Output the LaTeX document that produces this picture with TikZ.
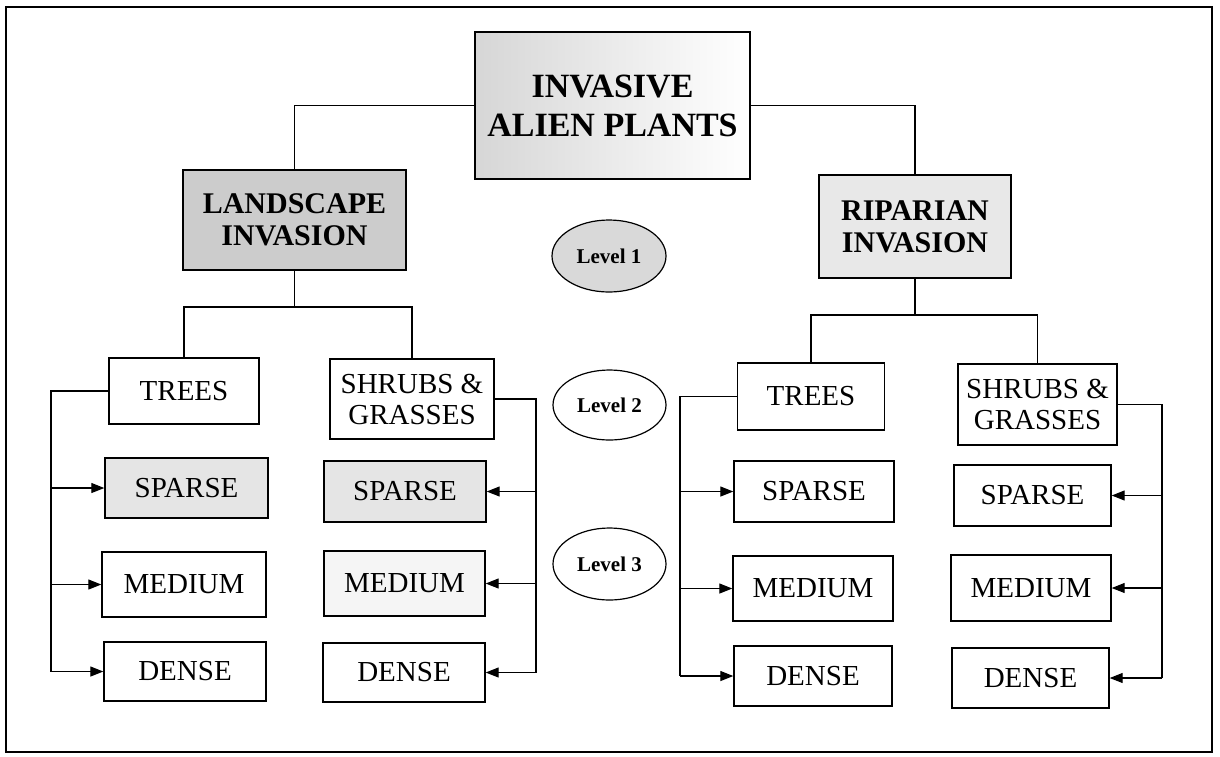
\documentclass[tikz,border=0pt]{standalone}
\usepackage{fontspec}
\setmainfont{Liberation Serif}
\usetikzlibrary{arrows.meta,shapes.geometric,calc}
\tikzset{
  box/.style={draw=black, line width=1.4pt, rectangle, inner sep=0pt, align=center,
    font=\fontsize{29}{31}\selectfont},
  head/.style={box, font=\bfseries\fontsize{30}{32}\selectfont},
  lev/.style={draw=black, line width=1.2pt, ellipse, inner sep=0pt,
    font=\bfseries\fontsize{21}{23}\selectfont},
  conn/.style={line width=1.2pt},
  arr/.style={line width=1.2pt, -{Triangle[length=13pt,width=10pt]}},
}
\begin{document}
\begin{tikzpicture}[x=1pt,y=-1pt]
\useasboundingbox (0,0) rectangle (1220,756);
\fill[white] (0,0) rectangle (1220,756);
\draw[line width=1.5pt] (6,7) rectangle (1212,752);

% headers
\node[head, left color=gray!32, right color=white, minimum width=275pt, minimum height=147pt,
  font=\bfseries\fontsize{34}{39}\selectfont] (top) at (612.5,105.5) {INVASIVE\\ALIEN PLANTS};
\node[head, fill=gray!40, minimum width=223pt, minimum height=100pt] (land) at (294.5,220) {LANDSCAPE\\INVASION};
\node[head, fill=gray!18, minimum width=192pt, minimum height=103pt] (rip) at (915,226.5) {RIPARIAN\\INVASION};

% level ellipses
\node[lev, fill=gray!30, minimum width=114pt, minimum height=72pt] (l1) at (609,256) {Level 1};
\node[lev, minimum width=113pt, minimum height=70pt] (l2) at (609.5,405) {Level 2};
\node[lev, minimum width=113pt, minimum height=72pt] (l3) at (609.5,564) {Level 3};

% left group
\node[box, minimum width=150pt, minimum height=66pt] (treesL) at (184,391) {TREES};
\node[box, minimum width=164pt, minimum height=80pt] (shrubsL) at (412,399) {SHRUBS \&\\GRASSES};
\node[box, fill=gray!20, minimum width=163pt, minimum height=60pt] (sparseL) at (186.5,488) {SPARSE};
\node[box, fill=gray!20, minimum width=162pt, minimum height=61pt] (sparseL2) at (405,491.5) {SPARSE};
\node[box, minimum width=164pt, minimum height=65pt] (mediumL) at (184,584.5) {MEDIUM};
\node[box, fill=gray!8, minimum width=161pt, minimum height=65pt] (mediumL2) at (404.5,583.5) {MEDIUM};
\node[box, minimum width=162pt, minimum height=59pt] (denseL) at (185,671.5) {DENSE};
\node[box, minimum width=162pt, minimum height=59pt] (denseL2) at (404,672.5) {DENSE};

% right group
\node[box, minimum width=147pt, minimum height=67pt] (treesR) at (811,396.5) {TREES};
\node[box, minimum width=159pt, minimum height=81pt] (shrubsR) at (1037.5,404.5) {SHRUBS \&\\GRASSES};
\node[box, minimum width=160pt, minimum height=61pt] (sparseR) at (814,491.5) {SPARSE};
\node[box, minimum width=157pt, minimum height=61pt] (sparseR2) at (1032.5,495.5) {SPARSE};
\node[box, minimum width=160pt, minimum height=65pt] (mediumR) at (813,588.5) {MEDIUM};
\node[box, minimum width=160pt, minimum height=66pt] (mediumR2) at (1031,588) {MEDIUM};
\node[box, minimum width=158pt, minimum height=60pt] (denseR) at (813,676) {DENSE};
\node[box, minimum width=157pt, minimum height=60pt] (denseR2) at (1030.5,678) {DENSE};

% top connectors
\draw[conn] (top.west) -| (land.north);
\draw[conn] (top.east) -| (rip.north);

% level 2 junctions
\coordinate (lj) at (294.5,307);
\draw[conn] (land.south) -- (lj);
\draw[conn] (treesL.north) |- (lj) -| (shrubsL.north);
\coordinate (rj) at (915,315);
\draw[conn] (rip.south) -- (rj);
\draw[conn] (treesR.north) |- (rj) -| (shrubsR.north);

% left trees bus
\coordinate (bL1) at (51,391);
\coordinate (bL4) at (51,671.5);
\draw[conn] (treesL.west) -- (bL1) -- (bL4);
\draw[arr] (bL1 |- sparseL.west) -- (sparseL.west);
\draw[arr] (bL1 |- mediumL.west) -- (mediumL.west);
\draw[arr] (bL4) -- (denseL.west);

% left shrubs bus
\coordinate (bS1) at (536,399);
\coordinate (bS4) at (536,672.5);
\draw[conn] (shrubsL.east) -- (bS1) -- (bS4);
\draw[arr] (bS1 |- sparseL2.east) -- (sparseL2.east);
\draw[arr] (bS1 |- mediumL2.east) -- (mediumL2.east);
\draw[arr] (bS4) -- (denseL2.east);

% right trees bus
\coordinate (bR1) at (680,396.5);
\coordinate (bR4) at (680,676);
\draw[conn] (treesR.west) -- (bR1) -- (bR4);
\draw[arr] (bR1 |- sparseR.west) -- (sparseR.west);
\draw[arr] (bR1 |- mediumR.west) -- (mediumR.west);
\draw[arr] (bR4) -- (denseR.west);

% right shrubs bus
\coordinate (bT1) at (1162,404.5);
\coordinate (bT4) at (1162,678);
\draw[conn] (shrubsR.east) -- (bT1) -- (bT4);
\draw[arr] (bT1 |- sparseR2.east) -- (sparseR2.east);
\draw[arr] (bT1 |- mediumR2.east) -- (mediumR2.east);
\draw[arr] (bT4) -- (denseR2.east);
\end{tikzpicture}
\end{document}
